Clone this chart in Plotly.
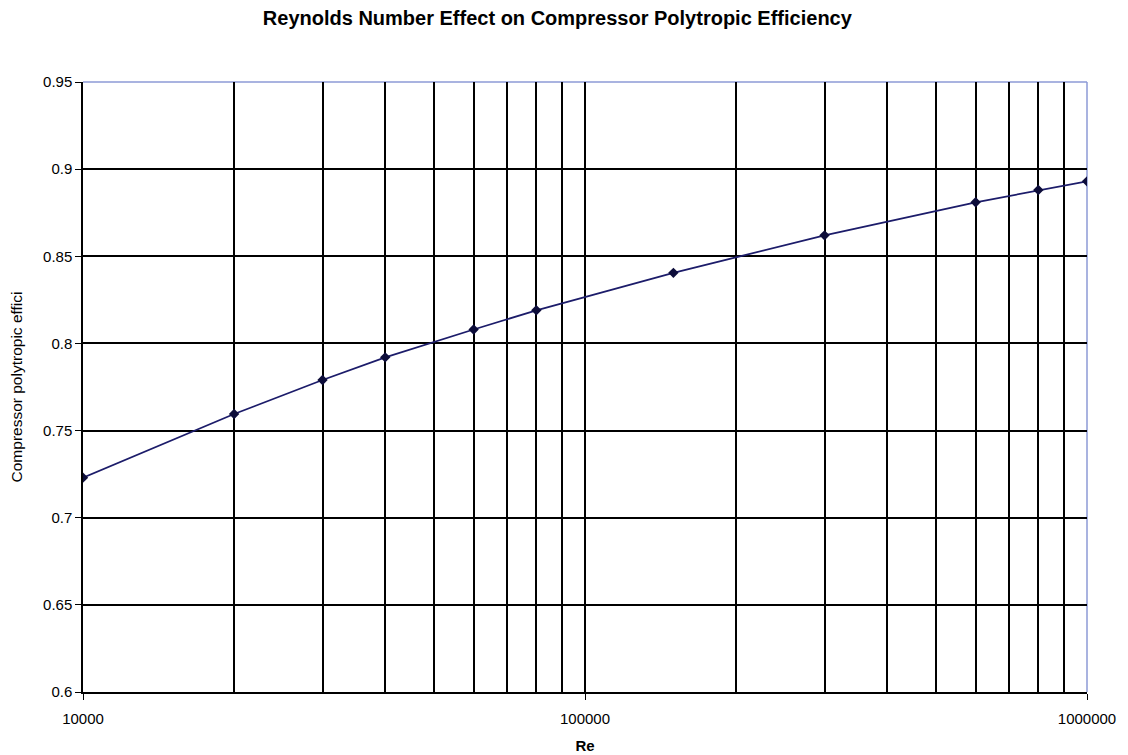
import plotly.graph_objects as go

# Reynolds number vs compressor polytropic efficiency
re_vals = [10000, 20000, 30000, 40000, 60000, 80000, 150000, 300000, 600000, 800000, 1000000]
eff_vals = [0.723, 0.7595, 0.779, 0.792, 0.808, 0.819, 0.8405, 0.862, 0.881, 0.888, 0.893]

x_major = [10000, 100000, 1000000]
x_major_text = ["10000", "100000", "1000000"]
x_minor = [m * 10 ** e for e in (4, 5) for m in range(2, 10)]
y_ticks = [0.6, 0.65, 0.7, 0.75, 0.8, 0.85, 0.9, 0.95]
y_ticks_text = ["0.6", "0.65", "0.7", "0.75", "0.8", "0.85", "0.9", "0.95"]

font = "Liberation Sans, Arial, sans-serif"
frame_blue = "#8c9ad6"

fig = go.Figure()
fig.add_trace(go.Scatter(
    x=re_vals, y=eff_vals, mode="lines+markers",
    line=dict(color="#1c1c6a", width=1.8),
    marker=dict(symbol="diamond", size=8, color="#0d0d3a"),
    showlegend=False,
))

# thin blue border on top and right of the plot area (Excel look)
fig.add_shape(type="line", xref="paper", yref="paper", x0=0, y0=1, x1=1, y1=1,
              line=dict(color=frame_blue, width=1.5), layer="between")
fig.add_shape(type="line", xref="paper", yref="paper", x0=1, y0=0, x1=1, y1=1,
              line=dict(color=frame_blue, width=1.5), layer="between")

fig.update_layout(
    width=1128, height=755,
    margin=dict(l=75, r=49, t=74, b=71),
    paper_bgcolor="white", plot_bgcolor="white",
    font=dict(family=font, color="black", size=15),
    title=dict(text="<b>Reynolds Number Effect on Compressor Polytropic Efficiency</b>",
               x=0.487, xanchor="center", y=0.996, yanchor="top",
               font=dict(size=20, family=font)),
)

fig.update_xaxes(
    type="log", range=[4, 6],
    tickvals=x_major, ticktext=x_major_text,
    ticks="outside", ticklen=6, tickcolor="black",
    ticklabelstandoff=6,
    showgrid=True, gridcolor="black", gridwidth=1.5,
    minor=dict(tickvals=x_minor, showgrid=True, gridcolor="black", gridwidth=1.5, ticks=""),
    showline=True, linecolor="black", linewidth=1.5,
    zeroline=False, automargin=False,
    tickfont=dict(size=15),
    title=dict(text="<b>Re</b>", font=dict(size=15), standoff=15),
)
fig.update_yaxes(
    range=[0.6, 0.95],
    tickvals=y_ticks, ticktext=y_ticks_text,
    ticks="outside", ticklen=6, tickcolor="black",
    showgrid=True, gridcolor="black", gridwidth=1.5,
    showline=True, linecolor="black", linewidth=1.5,
    zeroline=False, automargin=False,
    tickfont=dict(size=15),
    title=dict(text="Compressor polytropic effici", font=dict(size=15.5), standoff=20),
)

fig.write_html("out.html")
